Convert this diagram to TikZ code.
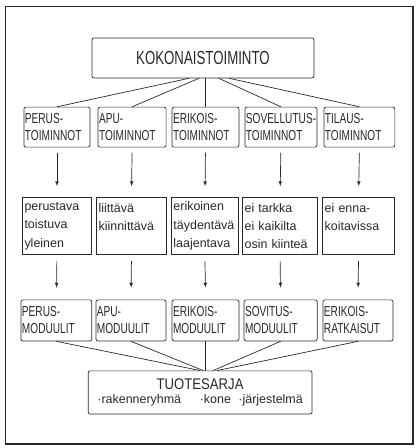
\documentclass[tikz,border=0pt]{standalone}
\usepackage{fontspec}
\setmainfont{Liberation Sans}
\newfontfamily\capsfont{Liberation Sans}[FakeStretch=0.7]
\newfontfamily\titlefont{Liberation Sans}[FakeStretch=0.85]
\usepackage{tikz}
\definecolor{inkgray}{RGB}{40,40,40}
\tikzset{
  capbox/.style={draw=inkgray,rounded corners=2pt,line width=0.7pt,minimum height=1.41cm,inner sep=1pt,align=left,text=inkgray,font=\capsfont\fontsize{14.5}{17}\selectfont},
  notebox/.style={draw=inkgray,line width=0.7pt,minimum height=2.01cm,inner sep=2pt,align=left,text=inkgray,font=\fontsize{12.5}{18.5}\selectfont},
  link/.style={draw=inkgray,line width=0.7pt},
  down/.style={draw=inkgray,line width=0.7pt,-latex},
}

\begin{document}
\begin{tikzpicture}
            \useasboundingbox (0,0) rectangle (14.746,15.805);
            \draw[inkgray,line width=1.1pt] (0.18,0.14) rectangle (14.57,15.59);
            % top and bottom boxes
            \node[capbox,minimum width=7.83cm,align=center,font=\capsfont\fontsize{19}{19}\selectfont] (whole) at (7.16,13.76) {KOKONAISTOIMINTO};
            \node[capbox,minimum width=7.90cm,minimum height=1.52cm,align=center,font=\fontsize{12.5}{14.5}\selectfont] (series) at (7.06,1.96) {{\titlefont\fontsize{15.5}{14.5}\selectfont TUOTESARJA}\\·rakenneryhmä\hspace{1.5em}·kone\hspace{0.6em}·järjestelmä};
            % functions
            \node[capbox,text width=2.26cm] (fperus) at (2.01,11.32) {PERUS-\\TOIMINNOT};
            \node[capbox,text width=2.33cm] (fapu) at (4.66,11.32) {APU-\\TOIMINNOT};
            \node[capbox,text width=2.29cm] (ferik) at (7.25,11.32) {ERIKOIS-\\TOIMINNOT};
            \node[capbox,text width=2.47cm] (fsov) at (9.91,11.32) {\mbox{SOVELLUTUS-}\\TOIMINNOT};
            \node[capbox,text width=2.43cm] (ftil) at (12.68,11.32) {TILAUS-\\TOIMINNOT};
            % properties
            \node[notebox,text width=2.29cm] (pperus) at (2.01,7.83) {perustava\\toistuva\\yleinen};
            \node[notebox,text width=2.32cm] (papu) at (4.64,7.83) {liittävä\\kiinnittävä\\\mbox{}};
            \node[notebox,text width=2.22cm] (perik) at (7.23,7.83) {erikoinen\\täydentävä\\laajentava};
            \node[notebox,text width=2.50cm] (psov) at (9.88,7.83) {ei tarkka\\ei kaikilta\\osin kiinteä};
            \node[notebox,text width=2.39cm] (ptil) at (12.65,7.83) {ei enna-\\koitavissa\\\mbox{}};
            % modules
            \node[capbox,text width=2.43cm,minimum height=1.45cm] (mperus) at (1.99,4.50) {PERUS-\\MODUULIT};
            \node[capbox,text width=2.40cm,minimum height=1.45cm] (mapu) at (4.62,4.50) {APU-\\MODUULIT};
            \node[capbox,text width=2.29cm,minimum height=1.45cm] (merik) at (7.25,4.50) {ERIKOIS-\\MODUULIT};
            \node[capbox,text width=2.51cm,minimum height=1.45cm] (msov) at (9.90,4.50) {SOVITUS-\\MODUULIT};
            \node[capbox,text width=2.40cm,minimum height=1.45cm] (mrat) at (12.63,4.50) {ERIKOIS-\\RATKAISUT};
            % links
            \draw[link] ([xshift=-0.49cm]whole.south) -- (fperus.north);
            \draw[link] ([xshift=-0.14cm]whole.south) -- (fapu.north);
            \draw[link] (ferik.north) -- (ferik.north |- whole.south);
            \draw[link] ([xshift=0.56cm]whole.south) -- (fsov.north);
            \draw[link] ([xshift=0.92cm]whole.south) -- (ftil.north);
            \draw[link] (mperus.south) -- (series.north);
            \draw[link] (mapu.south) -- ([xshift=0.11cm]series.north);
            \draw[link] (merik.south) -- (merik.south |- series.north);
            \draw[link] (msov.south) -- ([xshift=0.46cm]series.north);
            \draw[link] (mrat.south) -- ([xshift=0.60cm]series.north);
            % arrows
            \draw[down,shorten <=0.18cm,shorten >=0.39cm] (fperus.south) -- (pperus.north);
            \draw[down,shorten <=0.18cm,shorten >=0.39cm] (fapu.south) -- (papu.north);
            \draw[down,shorten <=0.18cm,shorten >=0.39cm] (ferik.south) -- (perik.north);
            \draw[down,shorten <=0.18cm,shorten >=0.39cm] (fsov.south) -- (psov.north);
            \draw[down,shorten <=0.18cm,shorten >=0.39cm] (ftil.south) -- (ptil.north);
            \draw[down,shorten <=0.22cm,shorten >=0.42cm] (pperus.south) -- (mperus.north);
            \draw[down,shorten <=0.22cm,shorten >=0.42cm] (papu.south) -- (mapu.north);
            \draw[down,shorten <=0.22cm,shorten >=0.42cm] (perik.south) -- (merik.north);
            \draw[down,shorten <=0.22cm,shorten >=0.42cm] (psov.south) -- (msov.north);
            \draw[down,shorten <=0.22cm,shorten >=0.42cm] (ptil.south) -- (mrat.north);
        \end{tikzpicture}
\end{document}
